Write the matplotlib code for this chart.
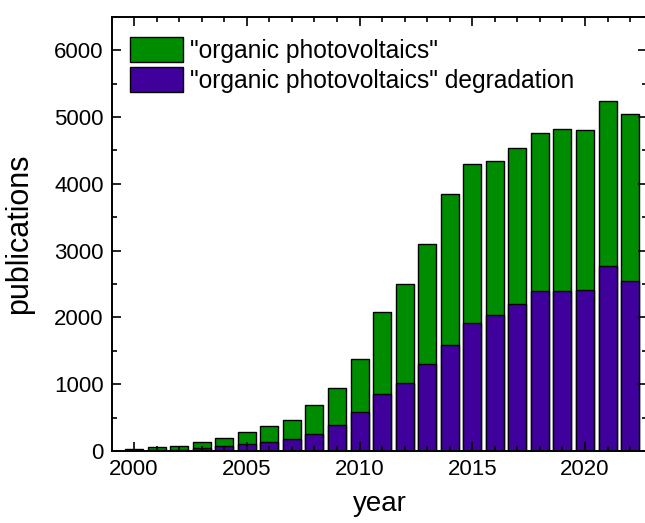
import numpy as np
import matplotlib
matplotlib.use("Agg")
import matplotlib.pyplot as plt
from matplotlib.ticker import MultipleLocator

plt.rcParams['font.family'] = ['Liberation Sans', 'DejaVu Sans']

years = list(range(2000, 2023))
opv_total = [30, 60, 70, 135, 195, 290, 375, 470, 690, 950, 1380, 2075,
             2495, 3095, 3850, 4300, 4340, 4535, 4765, 4825, 4800, 5235, 5040]
opv_degradation = [8, 15, 20, 40, 70, 110, 140, 180, 250, 390, 580, 860,
                   1020, 1300, 1590, 1910, 2040, 2200, 2400, 2400, 2410, 2770, 2540]
labels = ['"organic photovoltaics"', '"organic photovoltaics" degradation']

green = '#008c00'
purple = '#40009b'

fig = plt.figure(figsize=(6.45, 5.23), dpi=100)
ax = fig.add_axes([0.1736, 0.1377, 0.8295, 0.8303])

ax.bar(years, opv_total, width=0.8, color=green, edgecolor='black',
       linewidth=1.0, label=labels[0])
ax.bar(years, opv_degradation, width=0.8, color=purple, edgecolor='black',
       linewidth=1.0, label=labels[1])

ax.set_xlim(1999.02, 2022.75)
ax.set_ylim(0, 6500)
ax.xaxis.set_major_locator(MultipleLocator(5))
ax.xaxis.set_minor_locator(MultipleLocator(1))
ax.yaxis.set_major_locator(MultipleLocator(1000))
ax.yaxis.set_minor_locator(MultipleLocator(500))

ax.tick_params(which='both', direction='in', top=True, right=True,
               width=1.2, labelsize=16, pad=6)
ax.tick_params(which='major', length=6.5)
ax.tick_params(which='minor', length=3.5)
for s in ax.spines.values():
    s.set_linewidth(1.4)

ax.set_xlabel('year', fontsize=20)
ax.set_ylabel('publications', fontsize=22)
ax.xaxis.set_label_coords(0.5, -0.092)
ax.yaxis.set_label_coords(-0.145, 0.5)

ax.legend(loc='upper left', bbox_to_anchor=(0.034, 0.953), frameon=False,
          fontsize=17.7, handlelength=2.15, handleheight=1.2,
          labelspacing=0.16, handletextpad=0.3, borderpad=0, borderaxespad=0)

fig.savefig('out.png', dpi=100)
